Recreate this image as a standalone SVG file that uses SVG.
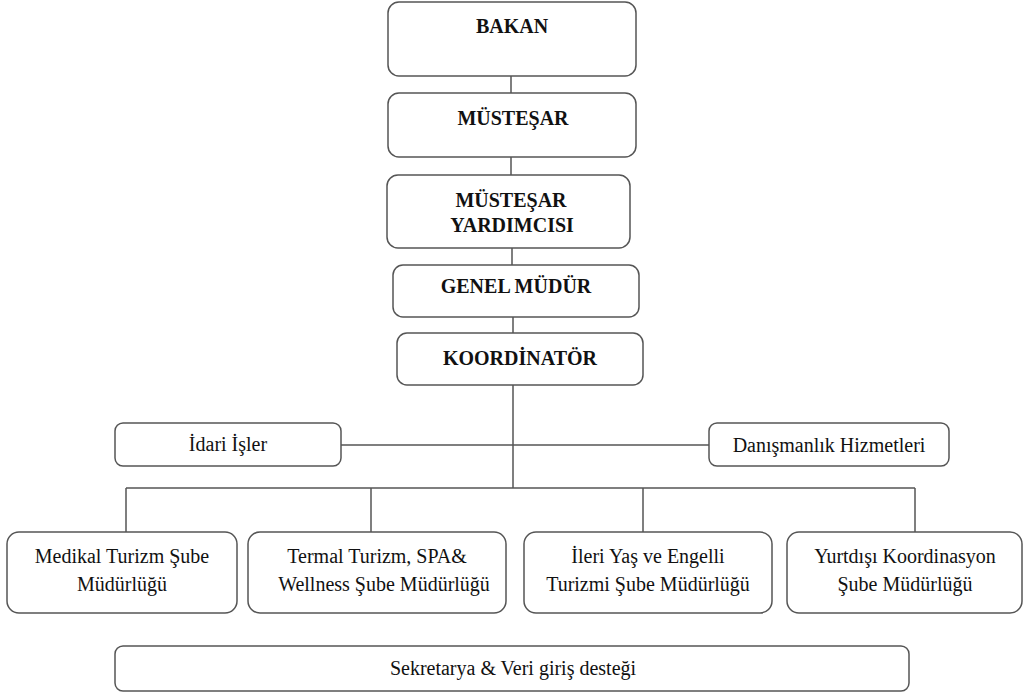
<svg xmlns="http://www.w3.org/2000/svg" width="1023" height="695" viewBox="0 0 1023 695">
<style>
.box{fill:#fff;stroke:#555;stroke-width:1.5}
.ln{stroke:#555;stroke-width:1.5;fill:none}
.b{font-family:"Liberation Serif",Tinos,"Times New Roman","DejaVu Serif",serif;font-weight:bold;font-size:20px;fill:#111;text-anchor:middle}
.r{font-family:"Liberation Serif",Tinos,"Times New Roman","DejaVu Serif",serif;font-size:20px;fill:#111;text-anchor:middle}
</style>
<rect width="1023" height="695" fill="#fff"/>
<g id="connectors">
<line class="ln" x1="511" y1="76" x2="511" y2="93"/>
<line class="ln" x1="511" y1="157" x2="511" y2="175"/>
<line class="ln" x1="512" y1="248" x2="512" y2="265"/>
<line class="ln" x1="513" y1="317" x2="513" y2="333"/>
<line class="ln" x1="513" y1="385" x2="513" y2="488"/>
<line class="ln" x1="341" y1="445" x2="709" y2="445"/>
<line class="ln" x1="126" y1="488" x2="915" y2="488"/>
<line class="ln" x1="126" y1="488" x2="126" y2="532"/>
<line class="ln" x1="371" y1="488" x2="371" y2="532"/>
<line class="ln" x1="643" y1="488" x2="643" y2="532"/>
<line class="ln" x1="915" y1="488" x2="915" y2="532"/>
</g>
<g id="bakan">
<rect class="box" x="388" y="2" width="248" height="74" rx="11"/>
<text class="b" x="512" y="33">BAKAN</text>
</g>
<g id="mustesar">
<rect class="box" x="388" y="93" width="248" height="64" rx="11"/>
<text class="b" x="513" y="125">MÜSTEŞAR</text>
</g>
<g id="mustesar-yardimcisi">
<rect class="box" x="387" y="175" width="243" height="73" rx="11"/>
<text class="b" x="511" y="207">MÜSTEŞAR</text>
<text class="b" x="512" y="232">YARDIMCISI</text>
</g>
<g id="genel-mudur">
<rect class="box" x="393" y="265" width="246" height="52" rx="10"/>
<text class="b" x="516" y="293">GENEL MÜDÜR</text>
</g>
<g id="koordinator">
<rect class="box" x="397" y="333" width="246" height="52" rx="10"/>
<text class="b" x="520" y="365">KOORDİNATÖR</text>
</g>
<g id="idari-isler">
<rect class="box" x="115" y="423" width="226" height="43" rx="8"/>
<text class="r" x="228" y="451">İdari İşler</text>
</g>
<g id="danismanlik">
<rect class="box" x="709" y="423" width="240" height="43" rx="8"/>
<text class="r" x="829" y="452">Danışmanlık Hizmetleri</text>
</g>
<g id="medikal">
<rect class="box" x="7" y="532" width="230" height="81" rx="12"/>
<text class="r" x="122" y="563">Medikal Turizm Şube</text>
<text class="r" x="122" y="591">Müdürlüğü</text>
</g>
<g id="termal">
<rect class="box" x="248" y="532" width="258" height="81" rx="12"/>
<text class="r" x="377" y="563">Termal Turizm, SPA&amp;</text>
<text class="r" x="384" y="591">Wellness Şube Müdürlüğü</text>
</g>
<g id="ileri-yas">
<rect class="box" x="524" y="532" width="248" height="81" rx="12"/>
<text class="r" x="648" y="563">İleri Yaş ve Engelli</text>
<text class="r" x="648" y="591">Turizmi Şube Müdürlüğü</text>
</g>
<g id="yurtdisi">
<rect class="box" x="787" y="532" width="235" height="81" rx="12"/>
<text class="r" x="905" y="563">Yurtdışı Koordinasyon</text>
<text class="r" x="905" y="591">Şube Müdürlüğü</text>
</g>
<g id="sekretarya">
<rect class="box" x="115" y="646" width="794" height="45" rx="8"/>
<text class="r" x="513" y="675">Sekretarya &amp; Veri giriş desteği</text>
</g>
</svg>
